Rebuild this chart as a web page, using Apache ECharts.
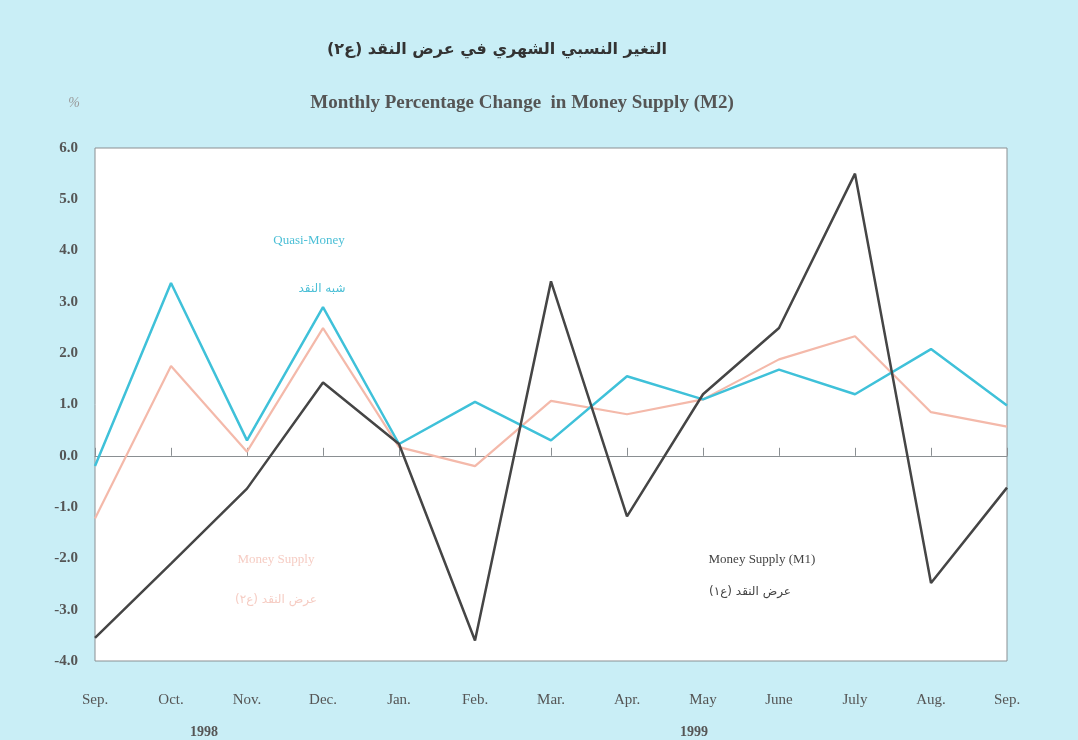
<!DOCTYPE html>
<html>
<head>
<meta charset="utf-8">
<script src="https://cdn.jsdelivr.net/npm/echarts@6/dist/echarts.min.js"></script>
<style>
html,body{margin:0;padding:0;background:#c9eef6;}
#chart{width:1078px;height:740px;}
</style>
</head>
<body>
<div id="chart"></div>
<script>
const months = ['Sep.','Oct.','Nov.','Dec.','Jan.','Feb.','Mar.','Apr.','May','June','July','Aug.','Sep.'];
const quasiMoney = [-0.2, 3.37, 0.3, 2.9, 0.23, 1.05, 0.3, 1.55, 1.1, 1.68, 1.2, 2.08, 0.98];
const moneySupplyM2 = [-1.22, 1.75, 0.08, 2.49, 0.17, -0.2, 1.07, 0.81, 1.1, 1.88, 2.33, 0.85, 0.57];
const moneySupplyM1 = [-3.55, -2.1, -0.64, 1.43, 0.23, -3.6, 3.4, -1.18, 1.2, 2.49, 5.5, -2.48, -0.62];
const yMin = -4, yMax = 6, yStep = 1;
const years = ['1998', '1999'];

const chart = echarts.init(document.getElementById('chart'));
const serif = 'Liberation Serif';
chart.setOption({
  backgroundColor: '#c9eef6',
  animation: false,
  grid: {left: 95, right: 71, top: 148, bottom: 79, show: true, backgroundColor: '#ffffff', borderColor: '#8a8f92', borderWidth: 1},
  xAxis: [
    {type: 'category', data: months, boundaryGap: false, position: 'bottom',
     axisLine: {show: false, onZero: false}, axisTick: {show: false}, splitLine: {show: false},
     axisLabel: {margin: 32, color: '#555', fontFamily: serif, fontSize: 15}},
    {type: 'category', data: months, boundaryGap: false, position: 'top',
     axisLine: {show: true, onZero: true, lineStyle: {color: '#8a8f92', width: 1}},
     axisTick: {show: true, length: 8, lineStyle: {color: '#8a8f92'}},
     axisLabel: {show: false}, splitLine: {show: false}}
  ],
  yAxis: {type: 'value', min: yMin, max: yMax, interval: yStep,
    axisLine: {show: false}, axisTick: {show: false}, splitLine: {show: false},
    axisLabel: {margin: 17, color: '#555', fontFamily: serif, fontWeight: 'bold', fontSize: 15,
      formatter: v => v.toFixed(1)}},
  series: [
    {type: 'line', name: 'Money Supply (M2)', data: moneySupplyM2, xAxisIndex: 0, showSymbol: false, symbol: 'none',
     lineStyle: {color: '#f4b9aa', width: 2.2}, z: 2},
    {type: 'line', name: 'Quasi-Money', data: quasiMoney, xAxisIndex: 0, showSymbol: false, symbol: 'none',
     lineStyle: {color: '#3fc1d9', width: 2.5}, z: 3},
    {type: 'line', name: 'Money Supply (M1)', data: moneySupplyM1, xAxisIndex: 0, showSymbol: false, symbol: 'none',
     lineStyle: {color: '#454545', width: 2.5}, z: 4}
  ],
  graphic: [
    {type: 'text', x: 497, y: 50, style: {text: 'التغير النسبي الشهري في عرض النقد (ع٢)', font: 'bold 16px "DejaVu Sans"', fill: '#333', align: 'center', verticalAlign: 'middle'}},
    {type: 'text', x: 522, y: 103, style: {text: 'Monthly Percentage Change  in Money Supply (M2)', font: 'bold 19px "Liberation Serif"', fill: '#555', align: 'center', verticalAlign: 'middle'}},
    {type: 'text', x: 74, y: 103, style: {text: '%', font: 'italic 14px "Liberation Serif"', fill: '#999', align: 'center', verticalAlign: 'middle'}},
    {type: 'text', x: 309, y: 241, style: {text: 'Quasi-Money', font: '13px "Liberation Serif"', fill: '#4bbfd6', align: 'center', verticalAlign: 'middle'}},
    {type: 'text', x: 322, y: 289, style: {text: 'شبه النقد', font: '12px "DejaVu Sans"', fill: '#4bbfd6', align: 'center', verticalAlign: 'middle'}},
    {type: 'text', x: 276, y: 560, style: {text: 'Money Supply', font: '13px "Liberation Serif"', fill: '#f6cdc4', align: 'center', verticalAlign: 'middle'}},
    {type: 'text', x: 276, y: 600, style: {text: 'عرض النقد (ع٢)', font: '12px "DejaVu Sans"', fill: '#f6cdc4', align: 'center', verticalAlign: 'middle'}},
    {type: 'text', x: 762, y: 560, style: {text: 'Money Supply (M1)', font: '13px "Liberation Serif"', fill: '#444', align: 'center', verticalAlign: 'middle'}},
    {type: 'text', x: 750, y: 592, style: {text: 'عرض النقد (ع١)', font: '12px "DejaVu Sans"', fill: '#444', align: 'center', verticalAlign: 'middle'}},
    {type: 'text', x: 204, y: 732, style: {text: years[0], font: 'bold 14px "Liberation Serif"', fill: '#555', align: 'center', verticalAlign: 'middle'}},
    {type: 'text', x: 694, y: 732, style: {text: years[1], font: 'bold 14px "Liberation Serif"', fill: '#555', align: 'center', verticalAlign: 'middle'}}
  ]
});
</script>
</body>
</html>
